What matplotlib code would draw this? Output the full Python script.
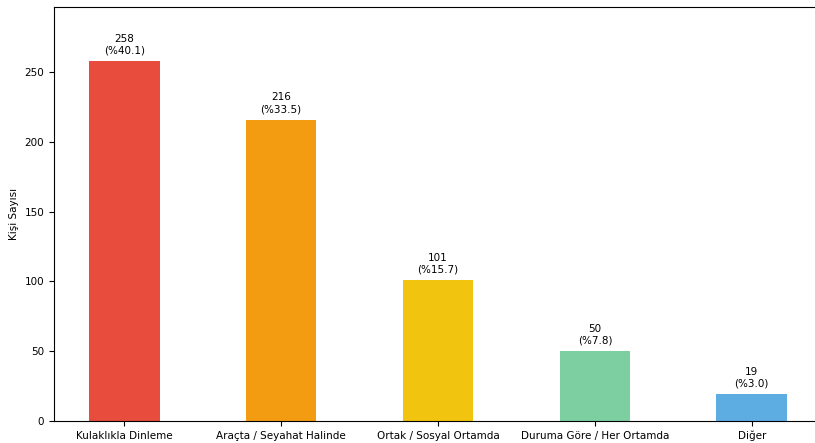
import matplotlib
matplotlib.use('Agg')
import matplotlib.pyplot as plt

categories = ['Kulaklıkla Dinleme', 'Araçta / Seyahat Halinde', 'Ortak / Sosyal Ortamda',
              'Duruma Göre / Her Ortamda', 'Diğer']
counts = [258, 216, 101, 50, 19]
percents = [40.1, 33.5, 15.7, 7.8, 3.0]
colors = ['#e74c3c', '#f39c12', '#f1c40f', '#7dcea0', '#5dade2']

fig = plt.figure(figsize=(8.15, 4.43), dpi=100)
ax = fig.add_axes([54 / 815, 22 / 443, (822 - 54) / 815, (421 - 7) / 443])

x = range(len(categories))
bars = ax.bar(x, counts, width=0.45, color=colors)
for b, c, p in zip(bars, counts, percents):
    ax.annotate('%d\n(%%%.1f)' % (c, p), (b.get_x() + b.get_width() / 2, c),
                xytext=(0, 4), textcoords='offset points',
                ha='center', va='bottom', fontsize=7.5)

ax.set_xticks(list(x))
ax.set_xticklabels(categories, fontsize=7.5)
ax.tick_params(axis='y', labelsize=7.5)
ax.set_ylabel('Kişi Sayısı', fontsize=7.5)
ax.set_ylim(0, max(counts) * 1.15)

fig.savefig('out.png', dpi=100)
